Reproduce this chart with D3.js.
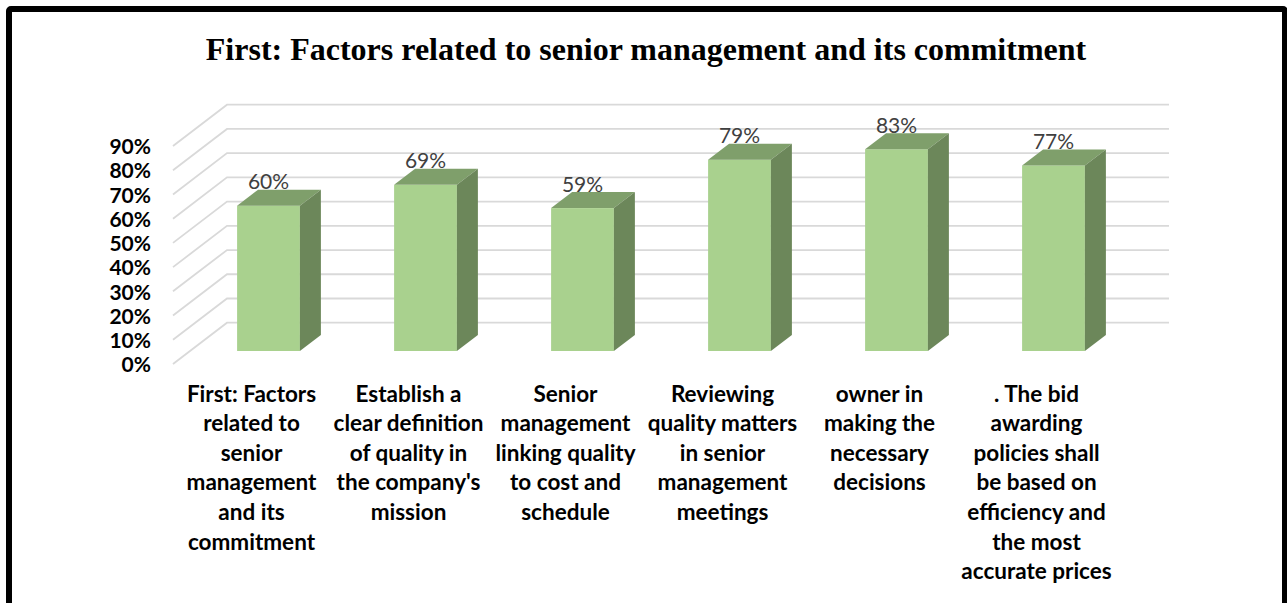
<!DOCTYPE html>
<html>
<head>
<meta charset="utf-8">
<script src="https://cdnjs.cloudflare.com/ajax/libs/d3/7.8.5/d3.min.js"></script>
<style>
  html, body { margin: 0; background: #fff; overflow: hidden; }
  svg { display: block; }
  .y-axis text { font: bold 21px Lato, sans-serif; fill: #000; }
</style>
</head>
<body>
<div id="chart"></div>
<script>
const chartTitle = 'First: Factors related to senior management and its commitment';
const categories = ['first', 'definition', 'linking', 'reviewing', 'owner', 'bid'];
const categoryLines = [
  ['First: Factors', 'related to', 'senior', 'management', 'and its', 'commitment'],
  ['Establish a', 'clear definition', 'of quality in', "the company's", 'mission'],
  ['Senior', 'management', 'linking quality', 'to cost and', 'schedule'],
  ['Reviewing', 'quality matters', 'in senior', 'management', 'meetings'],
  ['owner in', 'making the', 'necessary', 'decisions'],
  ['. The bid', 'awarding', 'policies shall', 'be based on', 'efficiency and', 'the most', 'accurate prices']
];
// the labels show them rounded
const values = [60, 68.6, 59, 79, 83.3, 76.6];
const yTicks = [0, 10, 20, 30, 40, 50, 60, 70, 80, 90];

const width = 1287, height = 603;
const floor = { dx: 54, dy: 41.3 };      // depth of the 3d floor
const bar = { shiftX: 17, shiftY: 13, dx: 21, dy: 16 }; // bar sits part way back on the floor

const svg = d3.select('#chart').append('svg')
  .attr('width', width)
  .attr('height', height);

// Outer frame, runs off the bottom of the page
svg.append('rect')
  .attr('x', 9).attr('y', 9)
  .attr('width', 1276).attr('height', 640)
  .attr('rx', 2)
  .attr('fill', '#fff')
  .attr('stroke', '#000')
  .attr('stroke-width', 6);

svg.append('text')
  .attr('x', 646).attr('y', 60)
  .attr('text-anchor', 'middle')
  .style('font', 'bold 32px "Liberation Serif", serif')
  .attr('fill', '#000')
  .text(chartTitle);

const x = d3.scaleBand()
  .domain(categories)
  .range([173, 1115])
  .paddingInner(0.6)
  .paddingOuter(0.3);

const y = d3.scaleLinear().domain([0, 90]).range([364, 146]);

// Gridlines: slanted on the side wall, then flat along the back wall
svg.selectAll('.grid-line')
  .data(yTicks)
  .join('path')
  .attr('class', 'grid-line')
  .attr('fill', 'none')
  .attr('stroke', '#d9d9d9')
  .attr('stroke-width', 1.8)
  .attr('d', d => {
    const p = d3.path();
    p.moveTo(x.range()[0], y(d));
    p.lineTo(x.range()[0] + floor.dx, y(d) - floor.dy);
    p.lineTo(x.range()[1] + floor.dx, y(d) - floor.dy);
    return p.toString();
  });

svg.append('g')
  .attr('class', 'y-axis')
  .attr('transform', 'translate(151,1)')
  .call(d3.axisLeft(y).tickValues(yTicks).tickSize(0).tickPadding(0).tickFormat(d => d + '%'))
  .call(g => g.select('.domain').remove());

const bars = svg.selectAll('.bar')
  .data(values)
  .join('g')
  .attr('class', 'bar')
  .attr('transform', (d, i) => `translate(${x(categories[i]) + bar.shiftX},${-bar.shiftY})`);

// front face
bars.append('rect')
  .attr('x', 0)
  .attr('y', d => y(d))
  .attr('width', x.bandwidth())
  .attr('height', d => y(0) - y(d))
  .attr('fill', '#a9d18e');

// top face
bars.append('path')
  .attr('fill', '#7f9f6b')
  .attr('d', d => {
    const w = x.bandwidth(), t = y(d);
    return `M0,${t}L${bar.dx},${t - bar.dy}L${w + bar.dx},${t - bar.dy}L${w},${t}Z`;
  });

// side face
bars.append('path')
  .attr('fill', '#6c875a')
  .attr('d', d => {
    const w = x.bandwidth(), t = y(d), b = y(0);
    return `M${w},${t}L${w + bar.dx},${t - bar.dy}L${w + bar.dx},${b - bar.dy}L${w},${b}Z`;
  });

bars.append('text')
  .attr('x', x.bandwidth() / 2)
  .attr('y', d => y(d) - 16.5)
  .attr('text-anchor', 'middle')
  .style('font', '21px Lato, sans-serif')
  .attr('fill', '#404040')
  .text(d => d3.format('.0f')(d) + '%');

// Category labels, wrapped by hand like the original
svg.selectAll('.tick-label')
  .data(categoryLines)
  .join('text')
  .attr('class', 'tick-label')
  .attr('text-anchor', 'middle')
  .style('font', 'bold 22.5px Lato, sans-serif')
  .attr('fill', '#000')
  .each(function (lines, i) {
    d3.select(this).selectAll('tspan')
      .data(lines)
      .join('tspan')
      .attr('x', x(categories[i]) + x.bandwidth() / 2)
      .attr('y', (d, j) => 401.5 + j * 29.6)
      .text(d => d);
  });
</script>
</body>
</html>
